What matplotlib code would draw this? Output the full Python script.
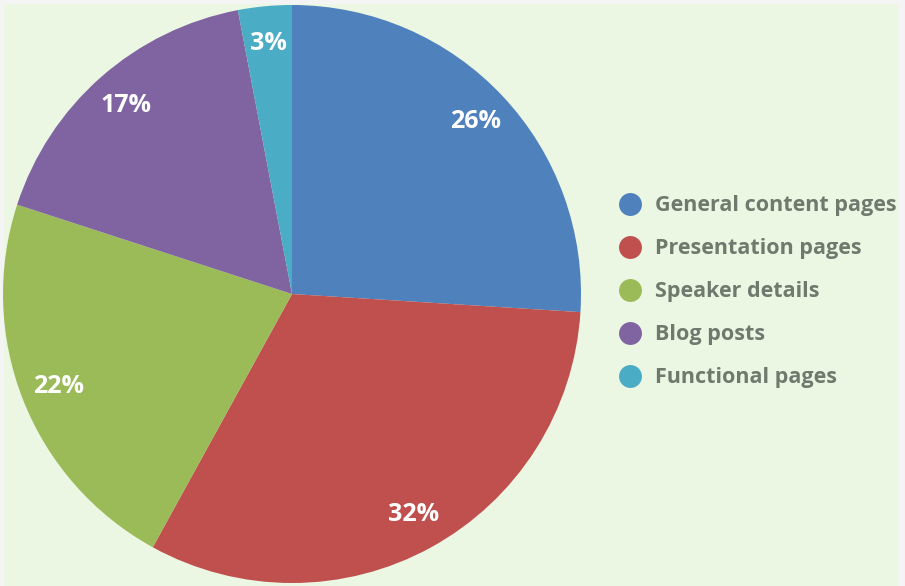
import matplotlib
matplotlib.use("Agg")
import matplotlib.pyplot as plt
from matplotlib.lines import Line2D
from matplotlib.patches import Rectangle
from matplotlib.font_manager import FontProperties

categories = ["General content pages", "Presentation pages", "Speaker details",
              "Blog posts", "Functional pages"]
values = [26, 32, 22, 17, 3]
colors = ["#4F81BD", "#C0504D", "#9BBB59", "#8064A2", "#4BACC6"]

W, H = 905, 586
fig = plt.figure(figsize=(W / 100, H / 100), dpi=100, facecolor="#F4F4F4")
fig.patches.append(Rectangle((4 / W, 0), (898 - 4) / W, (H - 4) / H,
                             transform=fig.transFigure, facecolor="#EBF6E3",
                             edgecolor="none", zorder=-10))

R = 289
cx, cy = 292, 294
ax = fig.add_axes([(cx - R) / W, (H - cy - R) / H, 2 * R / W, 2 * R / H])
ax.set_zorder(5)
ax.set_facecolor("none")

wedges, texts, autotexts = ax.pie(
    values, colors=colors, startangle=90, counterclock=False,
    autopct="%d%%", pctdistance=0.87, radius=1.0,
    wedgeprops=dict(edgecolor="none", linewidth=0))
label_fp = FontProperties(family="Open Sans", weight="bold", size=18)
for t in autotexts:
    t.set_fontproperties(label_fp)
    t.set_color("white")
ax.set_xlim(-1, 1)
ax.set_ylim(-1, 1)
ax.set_aspect("equal")
ax.axis("off")

handles = [Line2D([0], [0], marker="o", linestyle="none", markersize=16.5,
                  markerfacecolor=c, markeredgecolor="none") for c in colors]
leg = fig.legend(handles, categories, loc="upper left",
                 bbox_to_anchor=(598 / W, 1 - 176 / H), frameon=False,
                 handletextpad=0.55, labelspacing=1.02, handlelength=1.2,
                 prop=FontProperties(family="Open Sans", weight="bold", size=15.5))
for t in leg.get_texts():
    t.set_color("#6F7A6E")

fig.savefig("out.png", dpi=100, facecolor=fig.get_facecolor())
